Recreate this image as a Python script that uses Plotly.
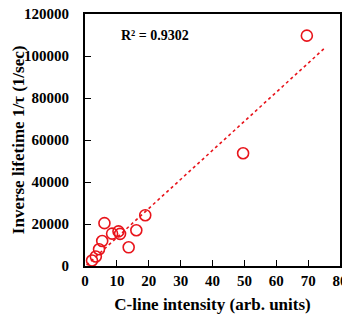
import plotly.graph_objects as go

# Datos
c_line = [2.2, 3.4, 4.4, 5.4, 6.1, 8.5, 10.5, 11.0, 13.7, 16.1, 18.9, 49.6, 69.6]
inv_lifetime = [2600, 4500, 8000, 11900, 20400, 15400, 16500, 15300, 8900, 17000, 24200, 53700, 109700]

# Línea de tendencia (extremos)
trend_x = [0.5, 75]
trend_y = [400, 103500]

x_ticks = [0, 10, 20, 30, 40, 50, 60, 70, 80]
y_ticks = [0, 20000, 40000, 60000, 80000, 100000, 120000]

FONT = "Liberation Serif, Times New Roman, serif"
RED = "#e8141b"
PAD = "\u00a0" * 3   # separa las etiquetas del eje Y

fig = go.Figure()

fig.add_trace(go.Scatter(
    x=trend_x, y=trend_y, mode="lines",
    line=dict(color=RED, width=1.6, dash="dot"),
    hoverinfo="skip",
))

fig.add_trace(go.Scatter(
    x=c_line, y=inv_lifetime, mode="markers",
    marker=dict(symbol="circle-open", size=11, color=RED, line=dict(width=1.6)),
))

fig.add_annotation(
    x=22, y=110000, xref="x", yref="y", text="<b>R² = 0.9302</b>",
    showarrow=False, font=dict(family=FONT, size=14, color="black"),
)

# título del eje Y como anotación para fijar su posición
fig.add_annotation(
    x=-0.262, y=0.5, xref="paper", yref="paper", textangle=-90,
    xanchor="center", yanchor="middle", showarrow=False,
    text="<b>Inverse lifetime 1/τ (1/sec)</b>",
    font=dict(family=FONT, size=17, color="black"),
)

axis_common = dict(
    showgrid=False, zeroline=False, automargin=False,
    showline=True, linecolor="black", linewidth=1.5, mirror=True,
    ticks="inside", ticklen=6, tickwidth=1.3, tickcolor="black",
    ticklabeloverflow="allow",
    tickfont=dict(family=FONT, size=15, color="black"),
)

# la página tiene 8 px de margen en el body: se compensa en tamaño y márgenes
fig.update_layout(
    width=342, height=313,
    margin=dict(l=77, r=10, t=6, b=55),
    paper_bgcolor="white", plot_bgcolor="white",
    showlegend=False,
    xaxis=dict(
        **axis_common, range=[0, 80],
        tickvals=x_ticks, ticktext=[f"<b>{v}</b>" for v in x_ticks],
        title=dict(text="<b>C-line intensity (arb. units)</b>", standoff=10,
                   font=dict(family=FONT, size=17, color="black")),
    ),
    yaxis=dict(
        **axis_common, range=[0, 120000],
        tickvals=y_ticks, ticktext=[f"<b>{v}</b>{PAD}" for v in y_ticks],
    ),
)

fig.write_html("out.html")
